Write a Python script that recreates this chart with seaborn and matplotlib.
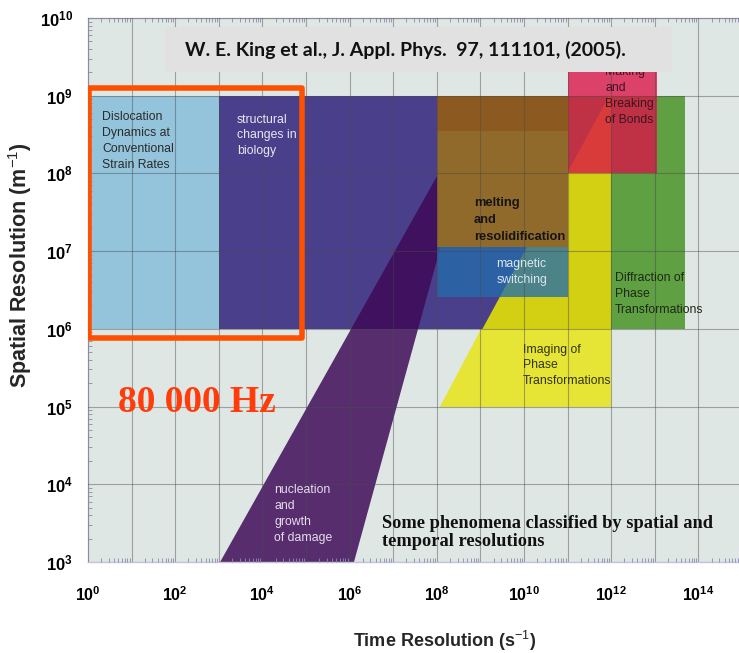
import math
import matplotlib
matplotlib.use('Agg')
import matplotlib.pyplot as plt
import seaborn as sns
from matplotlib.patches import Rectangle
from matplotlib.ticker import FixedLocator, FuncFormatter, LogLocator, NullFormatter

# phenomena regions: time resolution (s^-1) vs spatial resolution (m^-1)
dislocation_t = [1e0, 1e3]
dislocation_s = [1e6, 1e9]
biology_t = [1e3, 1e11]
biology_s = [1e6, 1e9]
diffraction_t = [1e9, 10**13.7]
diffraction_s = [1e6, 1e9]
nucleation_t = [10**3.03, 10**6.1, 10**9.04]
nucleation_s = [1e3, 1e3, 1e9]
imaging_t = [10**8.07, 1e12, 1e12, 10**11.95]
imaging_s = [1e5, 1e5, 1e9, 1e9]
imaging_low_t = [10**8.07, 1e12, 1e12, 10**9.01]
imaging_low_s = [1e5, 1e5, 1e6, 1e6]
melting_t = [1e8, 1e11]
melting_s = [10**7.05, 10**8.54, 1e9]
magnetic_t = [1e8, 1e11]
magnetic_s = [10**6.41, 10**7.05]
bonds_t = [1e11, 10**13.05]
bonds_s = [1e8, 10**9.6]

# highlighted frame (80 000 Hz)
frame_t = [10**0.02, 10**4.91]
frame_s = [10**5.88, 10**9.1]

x_decades = list(range(0, 15))
y_decades = list(range(3, 11))

sns.set_theme(style='white')
plt.rcParams['font.family'] = ['Liberation Sans', 'DejaVu Sans']
plt.rcParams['mathtext.fontset'] = 'custom'
plt.rcParams['mathtext.rm'] = 'Liberation Sans'
plt.rcParams['mathtext.it'] = 'Liberation Sans:italic'
plt.rcParams['mathtext.bf'] = 'Liberation Sans:bold'


def rect(t, s):
    return [t[0], t[1], t[1], t[0]], [s[0], s[0], s[1], s[1]]


fig = plt.figure(figsize=(7.39, 6.53), dpi=100)
ax = fig.add_axes([88 / 739, 91 / 653, 651 / 739, 544 / 653])
ax.set_facecolor('#dfe7e5')
ax.set_xscale('log')
ax.set_yscale('log')
ax.set_xlim(1, 10**14.93)
ax.set_ylim(1e3, 1e10)

ax.fill(*rect(dislocation_t, dislocation_s), color='#93c4dc', lw=0, zorder=1)
ax.fill(*rect(diffraction_t, diffraction_s), color='#5fa043', lw=0, zorder=1)
ax.fill(*rect(biology_t, biology_s), color='#4a3f8a', lw=0, zorder=1.1)
ax.fill(nucleation_t, nucleation_s, color='#3d0957', alpha=0.84, lw=0, zorder=1.2)
ax.fill(imaging_t, imaging_s, color='#d3cf12', lw=0, zorder=1.3)
ax.fill(imaging_low_t, imaging_low_s, color='#e6e536', lw=0, zorder=1.31)
ax.fill(*rect(melting_t, melting_s[0:2]), color='#906a2b', lw=0, zorder=1.4)
ax.fill(*rect(melting_t, melting_s[1:3]), color='#8c5a20', lw=0, zorder=1.4)
ax.fill(*rect(magnetic_t, magnetic_s), color='#246cad', alpha=0.77, lw=0, zorder=1.5)
ax.fill(*rect(bonds_t, bonds_s), color='#db1246', alpha=0.78, lw=0, zorder=1.6)

# region labels
lab = dict(fontsize=8.8, va='top', ha='left', linespacing=1.42, zorder=3)
ax.text(10**0.32, 10**8.80, 'Dislocation\nDynamics at\nConventional\nStrain Rates',
        color='#2a2a2a', **lab)
ax.text(10**3.42, 10**8.77, 'structural\nchanges in\nbiology', color='#e8e8f2', **lab)
ax.text(10**4.27, 10**4.0, 'nucleation\nand\ngrowth\nof damage', color='#e6dcec', **lab)
ax.text(10**9.95, 10**6.91, 'magnetic\nswitching', color='#dce6f0',
        **{**lab, 'ha': 'center', 'multialignment': 'left'})
ax.text(10**11.86, 10**9.38, 'Making\nand\nBreaking\nof Bonds', color='#3c1420', **lab)
ax.text(10**12.09, 10**6.73, 'Diffraction of\nPhase\nTransformations', color='#1e2814', **lab)
ax.text(10**9.98, 10**5.81, 'Imaging of\nPhase\nTransformations', color='#323214', **lab)
ax.text(10**8.85, 10**7.70, 'melting\nand\nresolidification', color='#141414',
        fontsize=9.3, fontweight='bold', va='top', ha='left', linespacing=1.58, zorder=3)

# grid on top of the regions
ax.set_axisbelow(False)
ax.xaxis.set_major_locator(FixedLocator([10.0**d for d in x_decades]))
ax.yaxis.set_major_locator(FixedLocator([10.0**d for d in y_decades]))
ax.xaxis.set_major_formatter(FuncFormatter(
    lambda v, p: r'$\mathbf{10^{%d}}$' % round(math.log10(v))
    if round(math.log10(v)) % 2 == 0 else ''))
ax.yaxis.set_major_formatter(FuncFormatter(
    lambda v, p: r'$\mathbf{10^{%d}}$' % round(math.log10(v))))
ax.xaxis.set_minor_locator(LogLocator(base=10, subs=range(2, 10), numticks=100))
ax.yaxis.set_minor_locator(LogLocator(base=10, subs=range(2, 10), numticks=100))
ax.xaxis.set_minor_formatter(NullFormatter())
ax.yaxis.set_minor_formatter(NullFormatter())
ax.grid(True, which='major', color='#4a4a4a', alpha=0.45, lw=0.8)
ax.tick_params(which='major', direction='in', length=0, labelcolor='black',
               top=False, right=False)
ax.tick_params(axis='x', which='major', pad=17, labelsize=11.5)
ax.tick_params(axis='y', which='major', pad=11, labelsize=12)
ax.tick_params(which='minor', direction='in', length=3, width=0.6, color='#8c8cb0',
               top=True, bottom=True, left=True, right=False)
for side, sp in ax.spines.items():
    sp.set_color('#c4c4da')
    sp.set_linewidth(1)
ax.spines['right'].set_visible(False)

ax.set_xlabel('Time Resolution (s$^{-1}$)', fontsize=13, fontweight='bold')
ax.set_ylabel('Spatial Resolution (m$^{-1}$)', fontsize=15.5, fontweight='bold')
ax.xaxis.set_label_coords(0.548, -0.145)
ax.xaxis.label.set_va('center')
ax.yaxis.set_label_coords(-0.104, 0.546)
ax.yaxis.label.set_va('center')

# citation box
ax.add_patch(Rectangle((0.1183, 0.9007), 0.7788, 0.0827, transform=ax.transAxes,
                       facecolor='#e1e1e1', edgecolor='none', zorder=4))
ax.text(0.149, 0.942, 'W. E. King et al., J. Appl. Phys.  97, 111101, (2005).',
        transform=ax.transAxes, family=['Lato', 'DejaVu Sans'], fontweight='bold',
        fontsize=14, color='#111111', va='center', ha='left', zorder=5)

# highlighted frame and frequency
ax.add_patch(Rectangle((frame_t[0], frame_s[0]), frame_t[1] - frame_t[0],
                       frame_s[1] - frame_s[0], facecolor='none', edgecolor='#ff5000',
                       lw=4, joinstyle='round', zorder=6))
ax.text(10**0.69, 10**4.93, '80 000 Hz', family=['Liberation Serif', 'DejaVu Serif'],
        fontweight='bold', fontsize=27, color='#ff3c0a', va='baseline', ha='left', zorder=6)

ax.text(10**6.74, 10**3.6, 'Some phenomena classified by spatial and\ntemporal resolutions',
        family=['Liberation Serif', 'DejaVu Serif'], fontweight='bold', fontsize=13.2,
        color='#111111', va='top', ha='left', linespacing=1.05, zorder=6)

fig.savefig('out.png', dpi=100)
